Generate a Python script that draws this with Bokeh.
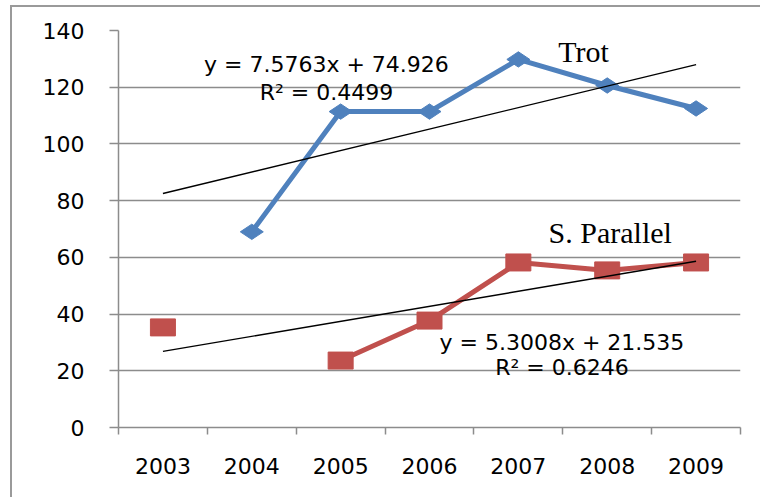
import numpy as np
from bokeh.plotting import figure
from bokeh.models import Range1d, FixedTicker
from bokeh.core.properties import value
from bokeh.embed import file_html
from bokeh.resources import INLINE

# ---- data ----
years = ["2003", "2004", "2005", "2006", "2007", "2008", "2009"]
trot = [np.nan, 69.0, 111.4, 111.4, 129.8, 120.6, 112.5]
s_parallel = [35.3, np.nan, 23.6, 37.7, 58.2, 55.4, 58.2]
trot_slope, trot_intercept, trot_r2 = 7.5763, 74.926, 0.4499
sp_slope, sp_intercept, sp_r2 = 5.3008, 21.535, 0.6246
y_ticks = [0, 20, 40, 60, 80, 100, 120, 140]
series_names = ["Trot", "S. Parallel"]

x = np.arange(1, len(years) + 1)

BLUE = "#4F81BD"
RED = "#C0504D"
GRAY = "#8c8c8c"
SANS = "DejaVu Sans"
SERIF = "Liberation Serif"

p = figure(width=760, height=497, output_backend="svg", toolbar_location=None,
           x_range=Range1d(0.5, len(years) + 0.5), y_range=Range1d(0, 140),
           min_border_left=118, min_border_right=20, min_border_top=30, min_border_bottom=70)
p.border_fill_color = None
p.background_fill_color = "white"
p.outline_line_color = None
p.styles = {"box-shadow": "inset 10px 0 0 0 #ffffff, inset 0 5px 0 0 #ffffff, "
                          "inset 12px 7px 0 0 #9a9a9a"}

# axes
p.yaxis.ticker = FixedTicker(ticks=y_ticks)
p.yaxis.major_tick_out = 9
p.yaxis.major_tick_in = 0
p.yaxis.minor_tick_out = 0
p.yaxis.minor_tick_in = 0
p.yaxis.major_label_standoff = 25
p.yaxis.axis_line_color = GRAY
p.yaxis.axis_line_width = 1.5
p.yaxis.major_tick_line_color = GRAY
p.yaxis.major_tick_line_width = 1.5
p.yaxis.major_label_text_font = SANS
p.yaxis.major_label_text_font_size = "22px"
p.yaxis.major_label_text_color = "black"

bounds = [i + 0.5 for i in range(0, len(years) + 1)]
p.xaxis.ticker = FixedTicker(ticks=list(x), minor_ticks=bounds)
p.xaxis.major_label_overrides = {int(xi): yr for xi, yr in zip(x, years)}
p.xaxis.major_tick_out = 0
p.xaxis.major_tick_in = 0
p.xaxis.minor_tick_out = 7
p.xaxis.minor_tick_in = 0
p.xaxis.minor_tick_line_color = GRAY
p.xaxis.minor_tick_line_width = 1.5
p.xaxis.axis_line_color = GRAY
p.xaxis.axis_line_width = 1.5
p.xaxis.major_label_standoff = 23
p.xaxis.major_label_text_font = SANS
p.xaxis.major_label_text_font_size = "22px"
p.xaxis.major_label_text_color = "black"

p.xgrid.grid_line_color = None
p.ygrid.ticker = FixedTicker(ticks=y_ticks)
p.ygrid.grid_line_color = GRAY
p.ygrid.grid_line_width = 1.3

# series
p.line(x, trot, line_color=BLUE, line_width=5)
p.scatter(x, trot, marker="diamond", angle=np.pi / 2, size=23,
          fill_color=BLUE, line_color=BLUE)

p.line(x, s_parallel, line_color=RED, line_width=5)
p.rect(x, s_parallel, width=25, height=17, width_units="screen", height_units="screen",
       fill_color=RED, line_color=RED)

# trend lines
xt = np.array([x[0], x[-1]], dtype=float)
p.line(xt, trot_slope * xt + trot_intercept, line_color="black", line_width=1.4)
p.line(xt, sp_slope * xt + sp_intercept, line_color="black", line_width=1.4)

# equation labels
eq_x = [2.84, 2.84, 5.49, 5.49]
eq_y = [128.0, 118.1, 30.1, 21.0]
eq_txt = [f"y = {trot_slope:.4f}x + {trot_intercept:.3f}", f"R² = {trot_r2:.4f}",
          f"y = {sp_slope:.4f}x + {sp_intercept:.3f}", f"R² = {sp_r2:.4f}"]
p.text(eq_x, eq_y, text=eq_txt, text_font=value(SANS), text_font_size="22px",
       text_align="center", text_baseline="middle", text_color="black")

# series name labels
p.text([5.45, 5.34], [132.5, 68.8], text=series_names, text_font=value(SERIF),
       text_font_size="30px", text_align="left", text_baseline="middle", text_color="black")

open("out.html", "w").write(file_html(p, INLINE))
